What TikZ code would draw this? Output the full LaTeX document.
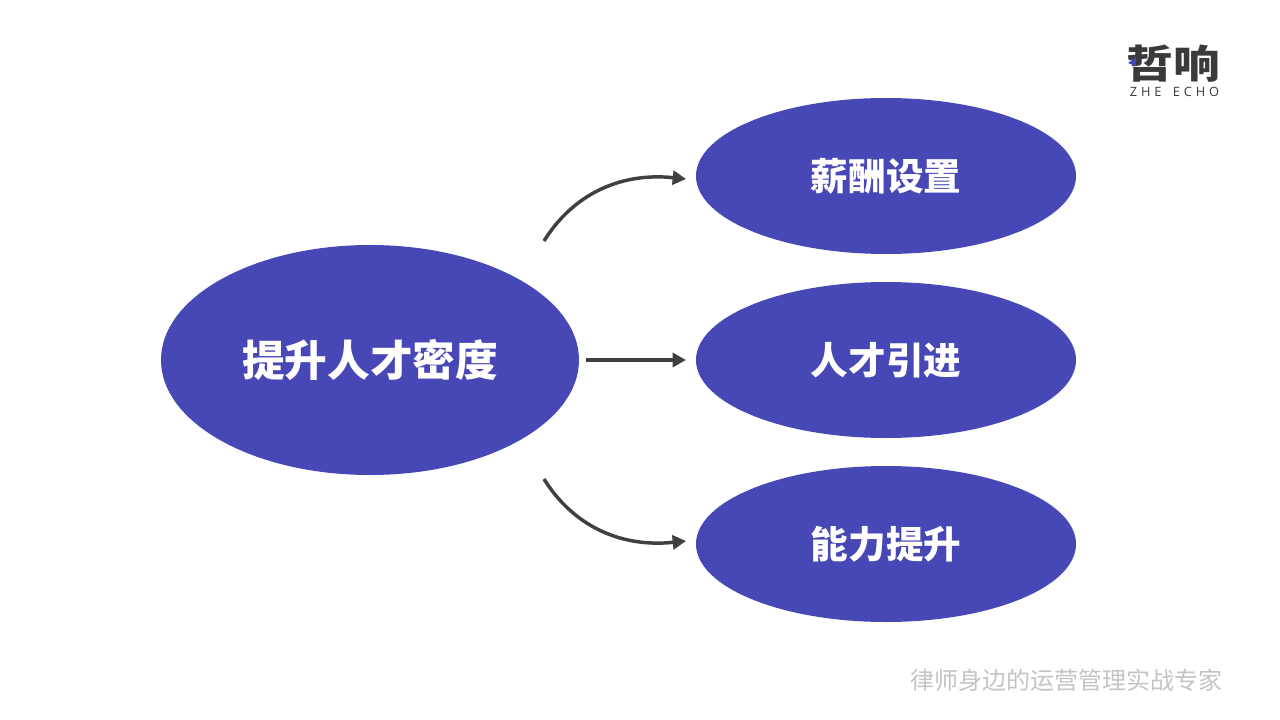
\documentclass[tikz,border=0pt]{standalone}
\usepackage{fontspec}
\usetikzlibrary{arrows.meta,shapes.geometric}
\setmainfont{Liberation Sans}
\newfontfamily\cjk{Noto Sans CJK SC}
\newfontfamily\logolatin[LetterSpace=30,WordSpace=1.6]{Open Sans}
\definecolor{ovalblue}{HTML}{4747B5}
\definecolor{arrowgray}{HTML}{404040}
\definecolor{footgray}{HTML}{C4C4C4}
\definecolor{logogray}{HTML}{3A3A3C}
\tikzset{
  oval/.style={ellipse,fill=ovalblue,draw=none,inner sep=0pt,text=white,font=\cjk\bfseries\fontsize{28.2}{34}\selectfont},
  bigoval/.style={oval,minimum width=313.5pt,minimum height=172.5pt,font=\cjk\bfseries\fontsize{32}{38}\selectfont},
  smalloval/.style={oval,minimum width=285pt,minimum height=117pt},
  link/.style={draw=arrowgray,line width=2.6pt,-{Triangle[length=10pt,width=10.5pt]}}
}
\begin{document}
\begin{tikzpicture}[x=0.75pt,y=-0.75pt]
\useasboundingbox (0,0) rectangle (1280,720);
\fill[white] (0,0) rectangle (1280,720);
\node[bigoval] (main) at (370,360) {提升人才密度};
\node[smalloval] (a) at (886,176) {薪酬设置};
\node[smalloval] (b) at (886,360) {人才引进};
\node[smalloval] (c) at (886,544) {能力提升};
\coordinate (s1) at (544,241);
\coordinate (s2) at (586,360);
\coordinate (s3) at (544,479);
\coordinate (e1) at (686,179);
\coordinate (e2) at (686,360);
\coordinate (e3) at (686,541);
\draw[link] (s1) .. controls (572,196) and (618,172) .. (e1);
\draw[link] (s2) -- (e2);
\draw[link] (s3) .. controls (572,524) and (618,548) .. (e3);
\node[inner sep=0pt,text=logogray,font=\cjk\bfseries\fontsize{35}{40}\selectfont] (logo) at (1173.5,63.5) {\scalebox{1}[0.84]{哲响}};
\fill[ovalblue] (1136,57) -- (1128,63) -- (1136,66) -- cycle;
\node[inner sep=0pt,text=logogray,font=\logolatin\fontsize{9.6}{11}\selectfont] (echo) at (1174.5,91.5) {ZHE ECHO};
\node[inner sep=0pt,text=footgray,font=\cjk\fontsize{18}{22}\selectfont] (foot) at (1066,680) {律师身边的运营管理实战专家};
\end{tikzpicture}
\end{document}
